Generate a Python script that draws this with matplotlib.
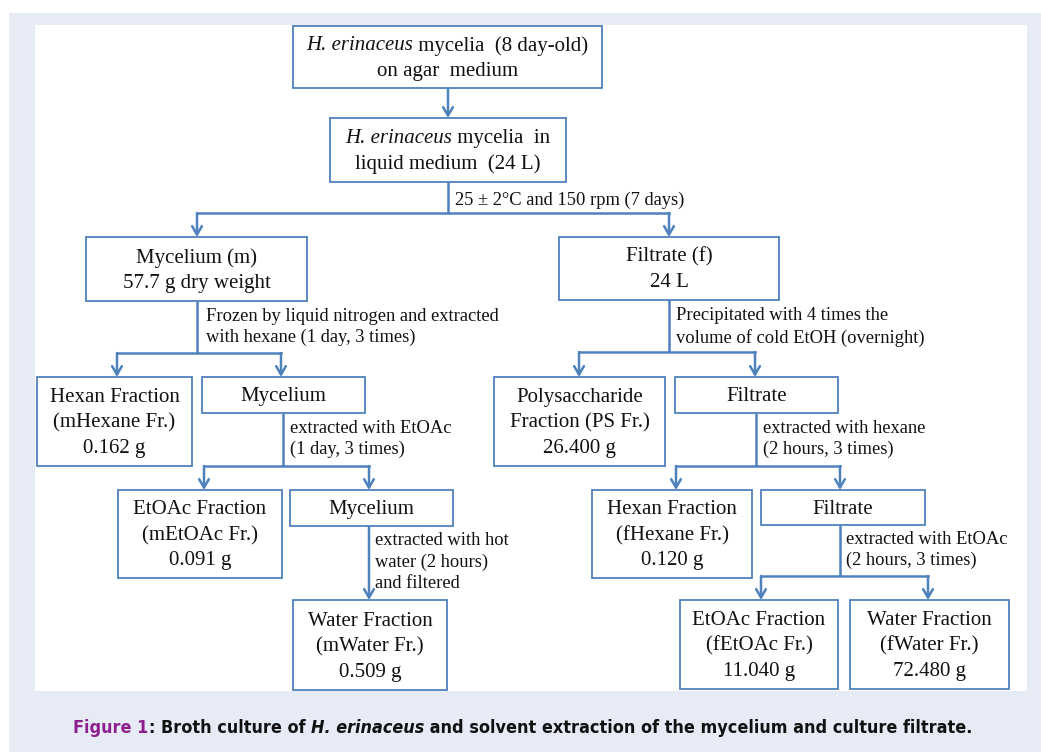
import matplotlib
matplotlib.use("Agg")
import matplotlib.pyplot as plt
from matplotlib.patches import Rectangle
from matplotlib.font_manager import fontManager, FontProperties

W, H = 1041, 752
BLUE = "#4F81BD"
SERIF = "Liberation Serif"

# ---- content (node texts) ----
node_texts = [
    [[("H. erinaceus", "i"), (" mycelia  (8 day-old)", "n")], [("on agar  medium", "n")]],
    [[("H. erinaceus", "i"), (" mycelia  in", "n")], [("liquid medium  (24 L)", "n")]],
    [[("Mycelium (m)", "n")], [("57.7 g dry weight", "n")]],
    [[("Filtrate (f)", "n")], [("24 L", "n")]],
    [[("Hexan Fraction", "n")], [("(mHexane Fr.)", "n")], [("0.162 g", "n")]],
    [[("Mycelium", "n")]],
    [[("Polysaccharide", "n")], [("Fraction (PS Fr.)", "n")], [("26.400 g", "n")]],
    [[("Filtrate", "n")]],
    [[("EtOAc Fraction", "n")], [("(mEtOAc Fr.)", "n")], [("0.091 g", "n")]],
    [[("Mycelium", "n")]],
    [[("Hexan Fraction", "n")], [("(fHexane Fr.)", "n")], [("0.120 g", "n")]],
    [[("Filtrate", "n")]],
    [[("Water Fraction", "n")], [("(mWater Fr.)", "n")], [("0.509 g", "n")]],
    [[("EtOAc Fraction", "n")], [("(fEtOAc Fr.)", "n")], [("11.040 g", "n")]],
    [[("Water Fraction", "n")], [("(fWater Fr.)", "n")], [("72.480 g", "n")]],
]
step_labels = [
    "25 \u00b1 2\u00b0C and 150 rpm (7 days)",
    "Frozen by liquid nitrogen and extracted\nwith hexane (1 day, 3 times)",
    "Precipitated with 4 times the\nvolume of cold EtOH (overnight)",
    "extracted with EtOAc\n(1 day, 3 times)",
    "extracted with hexane\n(2 hours, 3 times)",
    "extracted with hot\nwater (2 hours)\nand filtered",
    "extracted with EtOAc\n(2 hours, 3 times)",
]
caption_parts = [("Figure 1", "n", "#8E1F8F"), (": Broth culture of ", "n", "#111111"),
                 ("H. erinaceus", "i", "#111111"),
                 (" and solvent extraction of the mycelium and culture filtrate.", "n", "#111111")]

# ---- layout (pixels) ----
boxes = [  # x0, y0, x1, y1
    (293, 26, 602, 88), (330, 118, 566, 182),
    (86, 237, 307, 301), (559, 237, 779, 300),
    (37, 377, 192, 466), (202, 377, 365, 413),
    (494, 377, 665, 466), (675, 377, 838, 413),
    (118, 490, 282, 578), (290, 490, 453, 526),
    (592, 490, 752, 578), (761, 490, 925, 525),
    (293, 600, 447, 690), (680, 600, 838, 689), (850, 600, 1009, 689),
]
# splits: (parent x, y_top, y_bar, child xs, child y)
splits = [
    (448, 182, 213, [197, 669], 237),
    (197, 301, 353, [117, 281], 377),
    (669, 300, 352, [579, 755], 377),
    (283, 413, 466, [204, 369], 490),
    (756, 413, 466, [676, 840], 490),
    (840, 525, 576, [761, 928], 600),
]
straight = [(448, 88, 118), (369, 526, 600)]
label_pos = [(455, 200), (206, 327), (676, 327), (290, 439), (763, 439), (375, 562), (846, 550)]


def pick_condensed(italic):
    best = None
    for f in fontManager.ttflist:
        fn = f.fname
        cond = ("condensed" in str(f.stretch).lower() or "Condensed" in fn or "Narrow" in fn)
        if not cond or "Serif" in fn or "Mono" in fn:
            continue
        w = f.weight if isinstance(f.weight, int) else (700 if "bold" in str(f.weight).lower() else 400)
        if w < 600:
            continue
        is_it = f.style in ("italic", "oblique")
        if is_it != italic:
            continue
        if best is None or "DejaVu" in fn:
            best = f
    return best


cond_n = pick_condensed(False)
cond_i = pick_condensed(True)

fig = plt.figure(figsize=(W / 100, H / 100), dpi=100)
fig.patch.set_facecolor("white")
ax = fig.add_axes([0, 0, 1, 1])
ax.set_xlim(0, W)
ax.set_ylim(H, 0)
ax.axis("off")

ax.add_patch(Rectangle((9, 13), W - 9, H - 13, facecolor="#E7EBF6", edgecolor="none", zorder=0))
ax.add_patch(Rectangle((35, 25), 1027 - 35, 691 - 25, facecolor="white", edgecolor="none", zorder=0.5))

fig.canvas.draw()
renderer = fig.canvas.get_renderer()


def make_fp(family, size, weight, italic, cond=False):
    if cond:
        f = cond_i if italic else cond_n
        if f is None and italic:
            f = cond_n
        if f is not None:
            fp = FontProperties(fname=f.fname, size=size)
            return fp
        return FontProperties(family="DejaVu Sans", size=size, weight=weight,
                              style="italic" if italic else "normal")
    return FontProperties(family=family, size=size, weight=weight,
                          style="italic" if italic else "normal")


def rich_line(xc, y, parts, size, family, weight="normal", cond=False, target_w=None):
    def build(sz):
        ts = []
        for p in parts:
            s, st = p[0], p[1]
            fp = make_fp(family, sz, weight, st == "i", cond)
            t = ax.text(0, y, s, fontproperties=fp,
                        color=(p[2] if len(p) > 2 else "#111111"), va="center", ha="left", zorder=5)
            ts.append(t)
        return ts
    texts = build(size)
    widths = [t.get_window_extent(renderer).width for t in texts]
    if target_w is not None:
        tot = sum(widths)
        for t in texts:
            t.remove()
        size = size * target_w / tot
        texts = build(size)
        widths = [t.get_window_extent(renderer).width for t in texts]
    x = xc - sum(widths) / 2
    for t, w in zip(texts, widths):
        t.set_x(x)
        x += w


BOX_FS = 15.0
LINE_H = 25.5
for (x0, y0, x1, y1), lines in zip(boxes, node_texts):
    ax.add_patch(Rectangle((x0, y0), x1 - x0, y1 - y0, facecolor="white",
                           edgecolor=BLUE, lw=1.3, zorder=3))
    xc, yc = (x0 + x1) / 2, (y0 + y1) / 2
    n = len(lines)
    for i, ln in enumerate(lines):
        rich_line(xc, yc + (i - (n - 1) / 2) * LINE_H + 1.5, ln, BOX_FS, SERIF)

LW = 1.8
arrow_kw = dict(arrowstyle="->,head_length=0.6,head_width=0.35", color=BLUE, lw=LW,
                shrinkA=0, shrinkB=0)
for px, yt, yb, cxs, cy in splits:
    ax.plot([px, px], [yt, yb], color=BLUE, lw=LW, zorder=2, solid_capstyle="butt")
    ax.plot([min(cxs), max(cxs)], [yb, yb], color=BLUE, lw=LW, zorder=2, solid_capstyle="projecting")
    for cx in cxs:
        ax.annotate("", xy=(cx, cy), xytext=(cx, yb), arrowprops=arrow_kw, zorder=2)
for x, y0, y1 in straight:
    ax.annotate("", xy=(x, y1), xytext=(x, y0), arrowprops=arrow_kw, zorder=2)

for s, (x, y) in zip(step_labels, label_pos):
    ax.text(x, y, s, fontsize=13.3, family=SERIF, color="#111111", ha="left", va="center",
            linespacing=1.3, zorder=5)

rich_line(523, 728, caption_parts, 13.0, "DejaVu Sans", weight="bold", cond=True, target_w=896)

fig.savefig("out.png", dpi=100, facecolor=fig.get_facecolor())
